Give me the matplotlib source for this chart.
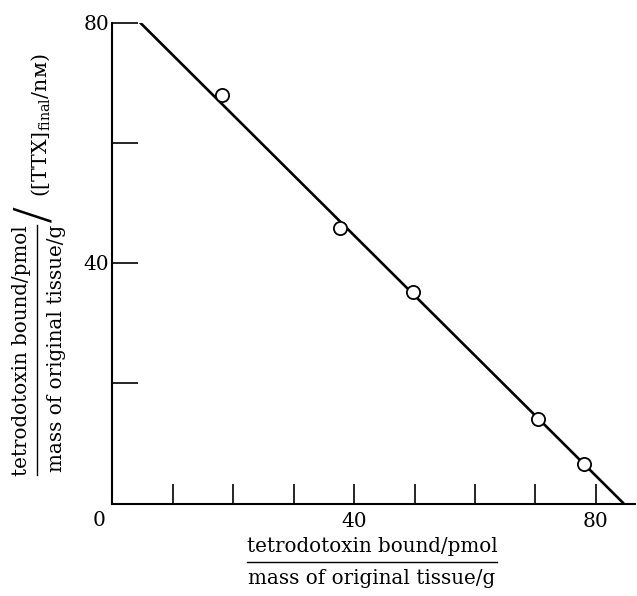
import matplotlib
matplotlib.use("Agg")
import matplotlib.pyplot as plt
from matplotlib.lines import Line2D

plt.rcParams['font.family'] = ['DejaVu Serif', 'DejaVu Sans']
plt.rcParams['mathtext.fontset'] = 'dejavuserif'

# data
bound = [18.2, 37.7, 49.8, 70.4, 78.0]
ratio = [68.0, 45.9, 35.1, 14.0, 6.6]
fit_x = [4.6, 84.6]
fit_y = [80.0, 0.0]

x_ticks = [10, 20, 30, 40, 50, 60, 70, 80]
x_ticklabels = ["", "", "", "40", "", "", "", "80"]
y_ticks = [20, 40, 60, 80]
y_ticklabels = ["", "40", "", "80"]

W, H = 637, 596
fig = plt.figure(figsize=(W / 100, H / 100), dpi=100)
ax = fig.add_axes([112.2 / W, 92.5 / H, 523 / W, 481 / H])

ax.plot(fit_x, fit_y, color='black', lw=1.9, solid_capstyle='butt', zorder=2)
ax.plot(bound, ratio, 'o', ms=9.5, mfc='white', mec='black', mew=1.3, zorder=3)

ax.set_xlim(0, 86.5)
ax.set_ylim(0, 80)
for s in ('top', 'right'):
    ax.spines[s].set_visible(False)
for s in ('left', 'bottom'):
    ax.spines[s].set_linewidth(1.5)

ax.set_xticks(x_ticks)
ax.set_xticklabels(x_ticklabels)
ax.set_yticks(y_ticks)
ax.set_yticklabels(y_ticklabels)
ax.tick_params(axis='x', direction='in', length=14.5, width=1.2, pad=6, labelsize=14.5)
ax.tick_params(axis='y', direction='in', length=19, width=1.2, pad=2, labelsize=14.5)

def px(x, y):
    return x / W, 1 - y / H

# origin label
fig.text(*px(99, 520), "0", ha='center', va='center', fontsize=14.5)

# x-axis label as a fraction
fig.text(*px(372, 546), "tetrodotoxin bound/pmol", ha='center', va='center', fontsize=14.3)
fig.add_artist(Line2D([247 / W, 497 / W], [1 - 562 / H, 1 - 562 / H],
                      transform=fig.transFigure, color='black', lw=1.0))
fig.text(*px(372, 578), "mass of original tissue/g", ha='center', va='center', fontsize=14.3)

# y-axis label as a fraction
fig.text(*px(22, 351), "tetrodotoxin bound/pmol", ha='center', va='center',
         rotation=90, fontsize=14.3)
fig.add_artist(Line2D([37 / W, 37 / W], [1 - 475 / H, 1 - 225 / H],
                      transform=fig.transFigure, color='black', lw=1.0))
fig.text(*px(56, 348), "mass of original tissue/g", ha='center', va='center',
         rotation=90, fontsize=14.3)
fig.text(*px(38, 214), "/", ha='center', va='center', rotation=90, fontsize=40,
         family=['Liberation Serif', 'DejaVu Serif'])
fig.text(*px(41, 125), r"([TTX]$_{\mathrm{final}}$/nᴍ)", ha='center', va='center',
         rotation=90, fontsize=14.8)

fig.savefig("out.png", dpi=100)
